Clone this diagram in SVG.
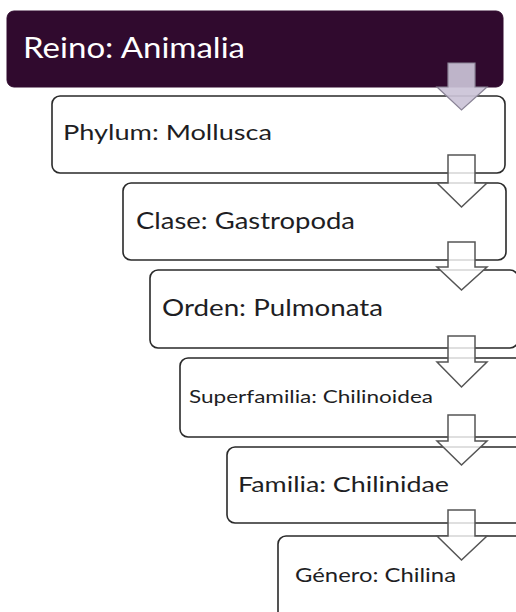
<svg xmlns="http://www.w3.org/2000/svg" width="516" height="612" viewBox="0 0 516 612">
<style>
.box{fill:#ffffff;stroke:#2a2a2a;stroke-width:1.6}
.top{fill:#300a2e;stroke:#300a2e;stroke-width:1}
.t{font-family:Lato,"Open Sans","Liberation Sans",sans-serif;fill:#1e1e24}
.arr{fill:#ffffff;fill-opacity:0.8;stroke:#555555;stroke-width:1.5;stroke-linejoin:miter}
.arr1{fill:#cbc3d7;fill-opacity:0.92;stroke:#8a8496;stroke-width:1.2}
</style>
<rect width="516" height="612" fill="#ffffff"/>
<g id="reino">
<rect class="top" x="7" y="11" width="496" height="76" rx="7"/>
<text class="t" x="23" y="58" font-size="28" textLength="222" lengthAdjust="spacingAndGlyphs" style="fill:#ffffff">Reino: Animalia</text>
</g>
<g id="phylum">
<rect class="box" x="52" y="96" width="453" height="77" rx="8"/>
<text class="t" x="63" y="140" font-size="22" textLength="209" lengthAdjust="spacingAndGlyphs">Phylum: Mollusca</text>
</g>
<g id="clase">
<rect class="box" x="123" y="183" width="383" height="77" rx="8"/>
<text class="t" x="136" y="229" font-size="23" textLength="219" lengthAdjust="spacingAndGlyphs">Clase: Gastropoda</text>
</g>
<g id="orden">
<rect class="box" x="150" y="270" width="368" height="78" rx="8"/>
<text class="t" x="162" y="316" font-size="23" textLength="221" lengthAdjust="spacingAndGlyphs">Orden: Pulmonata</text>
</g>
<g id="superfamilia">
<rect class="box" x="180" y="358" width="345" height="79" rx="8"/>
<text class="t" x="189" y="403" font-size="16.5" textLength="244" lengthAdjust="spacingAndGlyphs">Superfamilia: Chilinoidea</text>
</g>
<g id="familia">
<rect class="box" x="227" y="447" width="300" height="76" rx="8"/>
<text class="t" x="238" y="492" font-size="22" textLength="211" lengthAdjust="spacingAndGlyphs">Familia: Chilinidae</text>
</g>
<g id="genero">
<rect class="box" x="278" y="536" width="250" height="90" rx="8"/>
<text class="t" x="295" y="582" font-size="19" textLength="161" lengthAdjust="spacingAndGlyphs">Género: Chilina</text>
</g>
<g id="connectors">
<path class="arr1" d="M448 63 H475 V87 H487 L461.5 110 L437 87 H448 Z"/>
<path class="arr" d="M448 155 H475 V183 H487 L461.5 207 L437 183 H448 Z"/>
<path class="arr" d="M448 242 H475 V267 H487 L461.5 290 L437 267 H448 Z"/>
<path class="arr" d="M448 336 H475 V362 H487 L461.5 387 L437 362 H448 Z"/>
<path class="arr" d="M448 415 H475 V441 H487 L461.5 465 L437 441 H448 Z"/>
<path class="arr" d="M448 510 H475 V536 H487 L461.5 560 L437 536 H448 Z"/>
</g>
</svg>
